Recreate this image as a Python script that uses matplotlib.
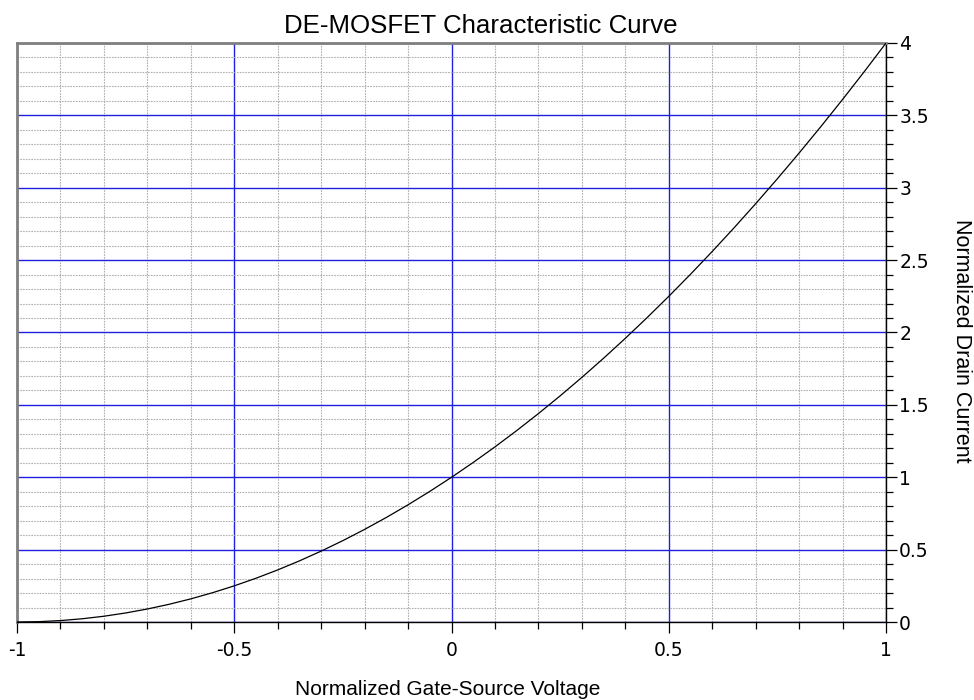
import matplotlib
matplotlib.use("Agg")
import matplotlib.pyplot as plt
from matplotlib.ticker import MultipleLocator, FuncFormatter

plt.rcParams['font.family'] = ['Liberation Sans', 'DejaVu Sans']

# values
vgs_norm = [-1.0, -0.95, -0.9, -0.85, -0.8, -0.75, -0.7, -0.65, -0.6, -0.55,
            -0.5, -0.45, -0.4, -0.35, -0.3, -0.25, -0.2, -0.15, -0.1, -0.05,
            0.0, 0.05, 0.1, 0.15, 0.2, 0.25, 0.3, 0.35, 0.4, 0.45,
            0.5, 0.55, 0.6, 0.65, 0.7, 0.75, 0.8, 0.85, 0.9, 0.95, 1.0]
id_norm = [0.0, 0.0025, 0.01, 0.0225, 0.04, 0.0625, 0.09, 0.1225, 0.16, 0.2025,
           0.25, 0.3025, 0.36, 0.4225, 0.49, 0.5625, 0.64, 0.7225, 0.81, 0.9025,
           1.0, 1.1025, 1.21, 1.3225, 1.44, 1.5625, 1.69, 1.8225, 1.96, 2.1025,
           2.25, 2.4025, 2.56, 2.7225, 2.89, 3.0625, 3.24, 3.4225, 3.61, 3.8025, 4.0]

fig = plt.figure(figsize=(9.74, 7.0), dpi=100)
ax = fig.add_axes([0.0175, 0.1114, 0.8922, 0.8272])

ax.plot(vgs_norm, id_norm, color='black', linewidth=0.9, zorder=5)

ax.set_xlim(-1, 1)
ax.set_ylim(0, 4)

ax.xaxis.set_major_locator(MultipleLocator(0.5))
ax.xaxis.set_minor_locator(MultipleLocator(0.1))
ax.yaxis.set_major_locator(MultipleLocator(0.5))
ax.yaxis.set_minor_locator(MultipleLocator(0.1))

fmt = FuncFormatter(lambda v, p: f"{v:g}")
ax.xaxis.set_major_formatter(fmt)
ax.yaxis.set_major_formatter(fmt)

ax.yaxis.tick_right()

ax.grid(which='minor', color='#b0b0b0', linestyle=(0, (1.5, 1)), linewidth=0.8)
ax.grid(which='major', color='#2020e0', linestyle='-', linewidth=1.0)
ax.set_axisbelow(True)

ax.tick_params(which='both', direction='out', colors='black')
ax.tick_params(which='major', length=8, width=0.9)
ax.tick_params(which='minor', length=5, width=0.9)
ax.tick_params(axis='x', pad=6)
ax.tick_params(axis='y', pad=1.5)
for lbl in ax.get_xticklabels() + ax.get_yticklabels():
    lbl.set_fontfamily('DejaVu Sans')
    lbl.set_fontsize(13.5)

for side in ('top', 'left'):
    ax.spines[side].set_color('#808080')
    ax.spines[side].set_linewidth(2)
for side in ('bottom', 'right'):
    ax.spines[side].set_color('black')
    ax.spines[side].set_linewidth(1)

fig.text(481 / 974, 1 - 33 / 700, 'DE-MOSFET Characteristic Curve',
         fontsize=18.6, ha='center', va='baseline')
fig.text(448 / 974, 1 - 695 / 700, 'Normalized Gate-Source Voltage',
         fontsize=15, ha='center', va='baseline')
fig.text(961 / 974, 1 - 341 / 700, 'Normalized Drain Current',
         fontsize=15.5, ha='center', va='center', rotation=-90)

fig.savefig('out.png', dpi=100)
